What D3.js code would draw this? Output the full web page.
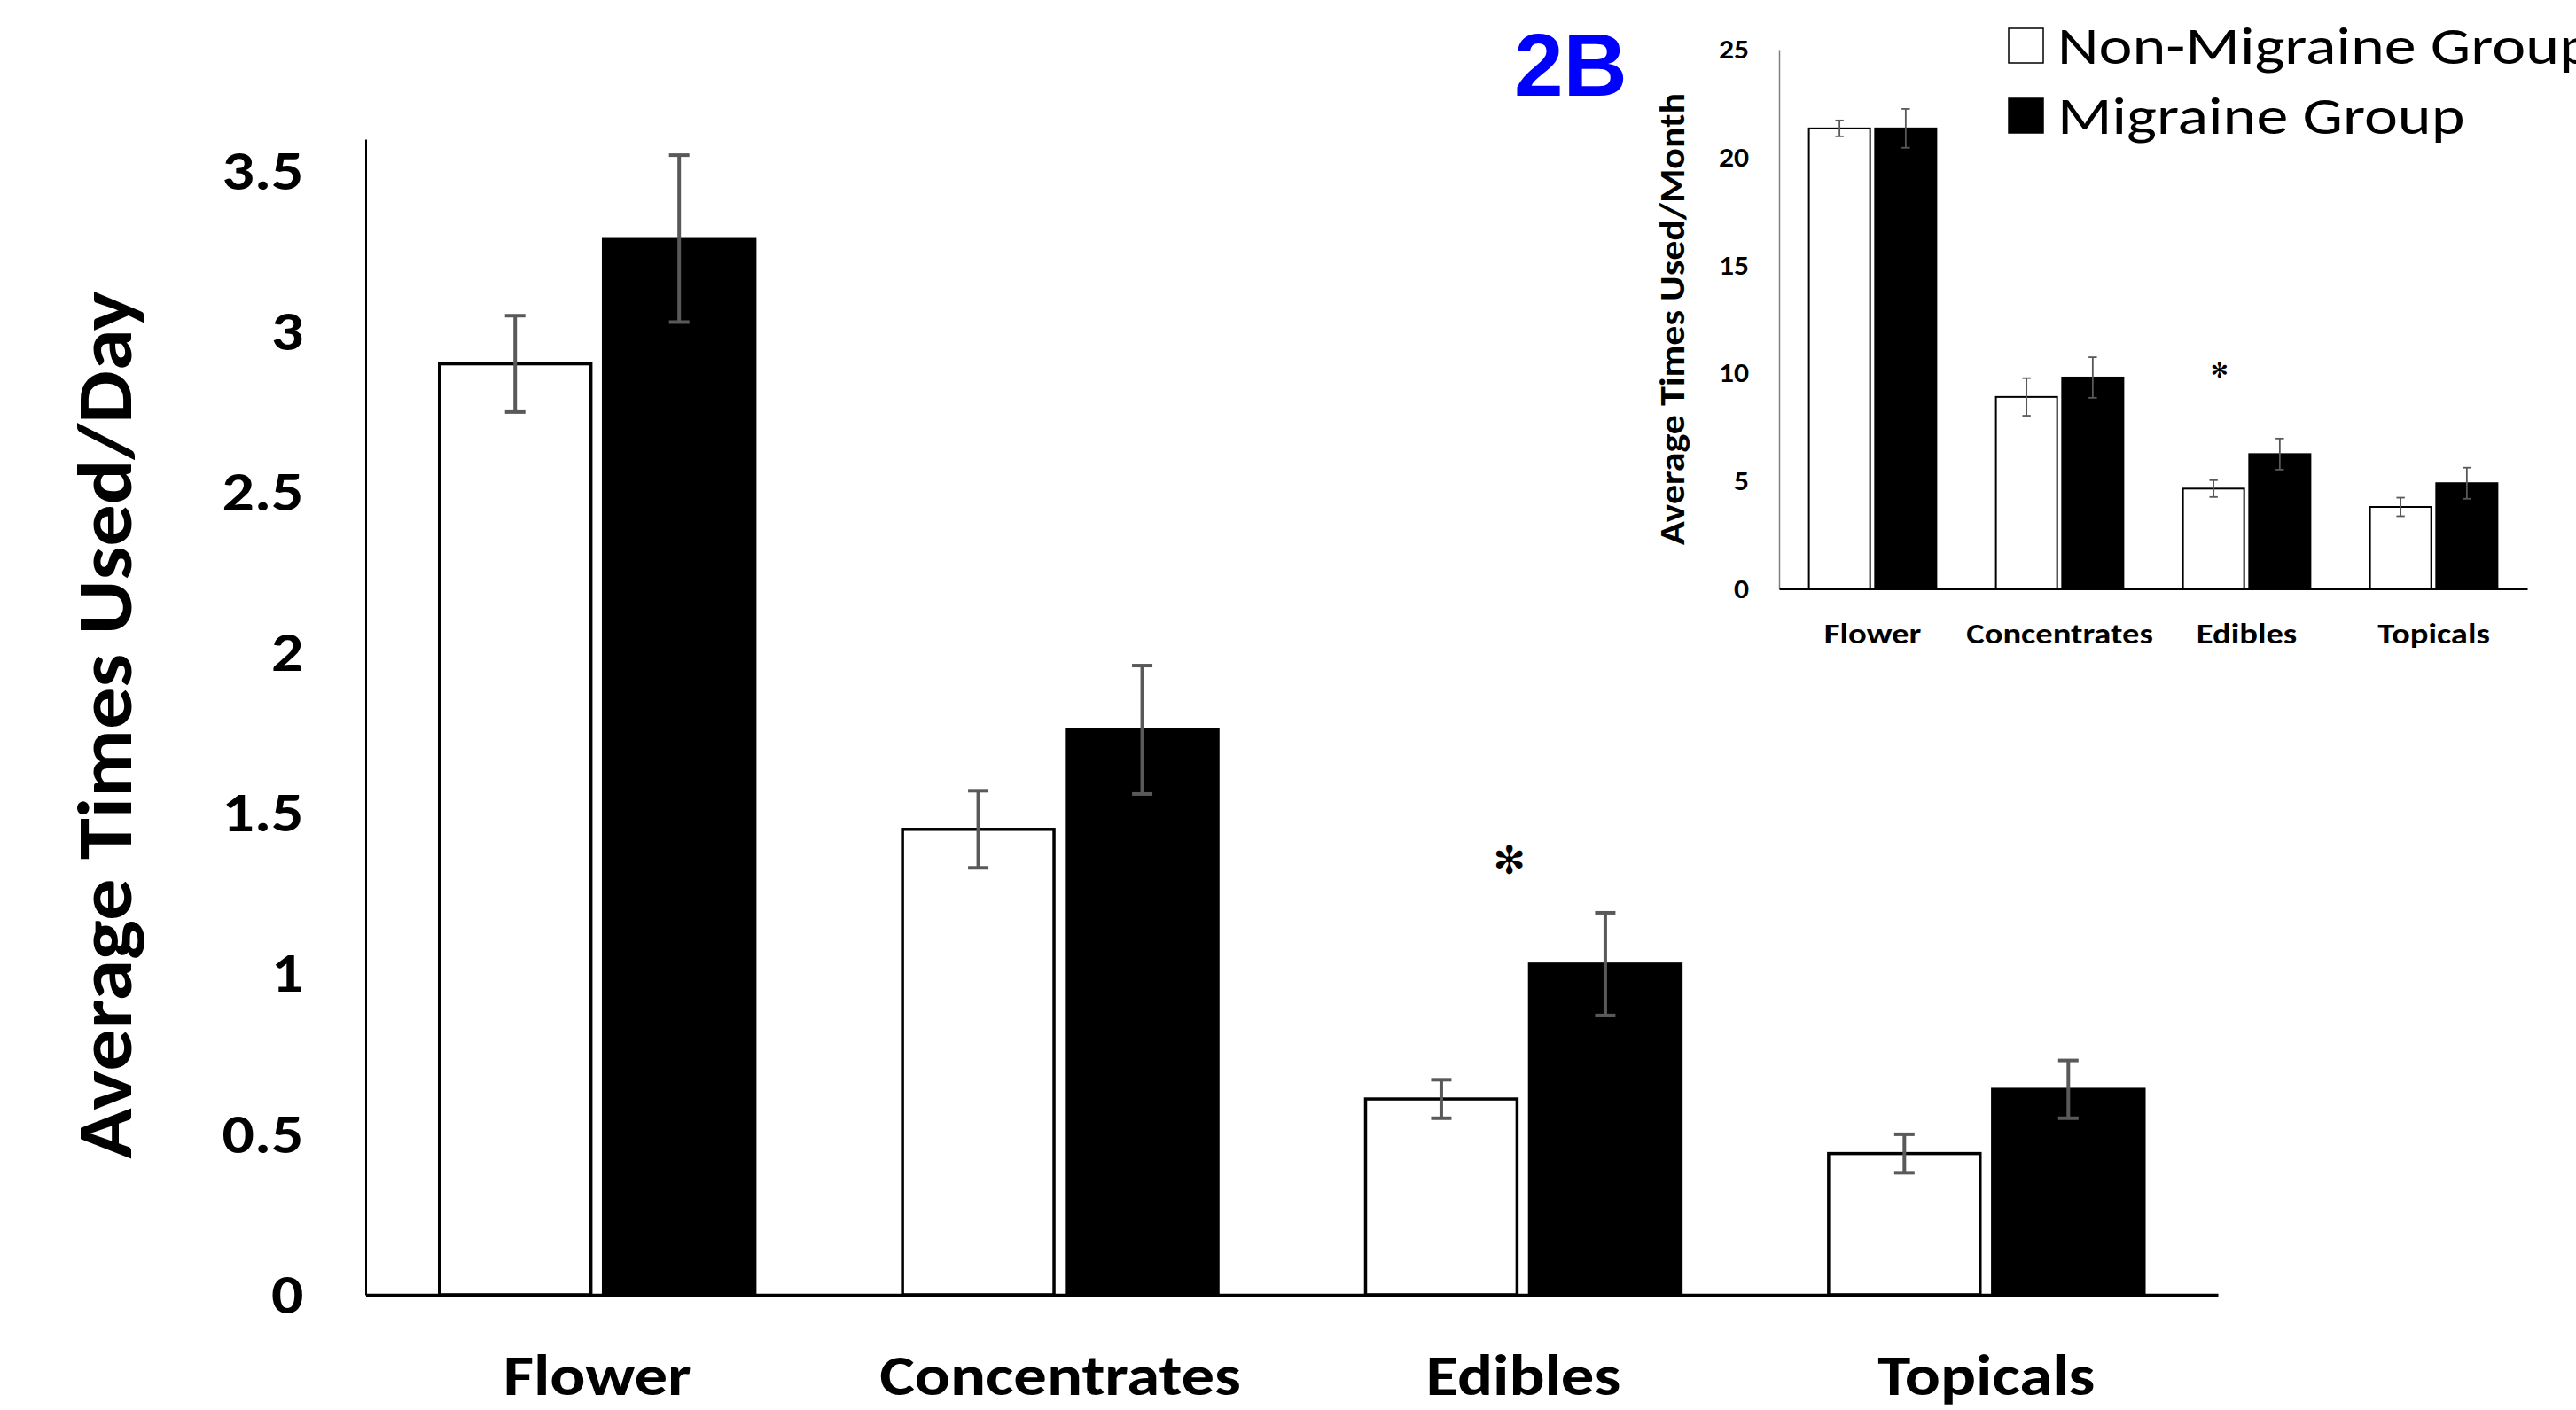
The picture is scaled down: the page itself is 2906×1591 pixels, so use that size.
<!DOCTYPE html>
<html lang="en">
<head>
    <meta charset="UTF-8">
    <title>Cannabis use frequency, migraine vs non-migraine</title>
    <script src="https://cdn.jsdelivr.net/npm/d3@7"></script>
    <style>
        html, body {
            margin: 0;
            padding: 0;
            background: #fff;
        }
        svg {
            display: block;
            font-family: Carlito, Calibri, Lato, sans-serif;
        }
    </style>
</head>
<body>
    <script>
        // Data
        const categories = ["Flower", "Concentrates", "Edibles", "Topicals"];
        const groups = ["Non-Migraine Group", "Migraine Group"];

        // main panel: times used per day
        const dayNonMigraine = [2.90, 1.45, 0.61, 0.44];
        const dayNonMigraineErr = [0.15, 0.12, 0.06, 0.06];
        const dayMigraine = [3.29, 1.76, 1.03, 0.64];
        const dayMigraineErr = [0.26, 0.20, 0.16, 0.09];
        const dayTicks = [0, 0.5, 1, 1.5, 2, 2.5, 3, 3.5];

        // inset (2B): times used per month
        const monthNonMigraine = [21.35, 8.9, 4.65, 3.8];
        const monthNonMigraineErr = [0.37, 0.87, 0.39, 0.43];
        const monthMigraine = [21.35, 9.8, 6.25, 4.9];
        const monthMigraineErr = [0.9, 0.94, 0.72, 0.72];
        const monthTicks = [0, 5, 10, 15, 20, 25];

        const significant = ["Edibles"];

        const W = 2906, H = 1591;

        const svg = d3.select("body")
            .append("svg")
            .attr("width", W)
            .attr("height", H);

        // Lato stands in for Calibri but runs narrower, so widen glyphs a bit
        function widen(sel, k) {
            sel.each(function() {
                const len = this.getComputedTextLength();
                d3.select(this)
                    .attr("textLength", len * k)
                    .attr("lengthAdjust", "spacingAndGlyphs");
            });
        }

        function rows(nonMig, nonErr, mig, migErr) {
            return categories.map((c, i) => ({
                category: c,
                values: [
                    { group: groups[0], value: nonMig[i], err: nonErr[i] },
                    { group: groups[1], value: mig[i], err: migErr[i] }
                ]
            }));
        }

        function drawPanel(opt) {
            const g = svg.append("g");

            const x0 = d3.scaleBand()
                .domain(categories)
                .range([opt.left, opt.right]);

            const x1 = d3.scaleBand()
                .domain(groups)
                .range([0, x0.bandwidth()])
                .paddingInner(0.076)
                .paddingOuter(0.45);

            const y = d3.scaleLinear()
                .domain(opt.domain)
                .range([opt.bottom, opt.top]);

            // y axis
            const yAxis = g.append("g")
                .attr("transform", `translate(${opt.left},0)`)
                .call(d3.axisLeft(y)
                    .tickValues(opt.ticks)
                    .tickFormat(d => d)
                    .tickSize(0)
                    .tickSizeOuter(0)
                    .tickPadding(opt.tickPad));
            yAxis.select(".domain")
                .attr("stroke", opt.yAxisColor)
                .attr("stroke-width", opt.yAxisWidth);
            yAxis.selectAll("text")
                .attr("font-family", "Carlito, Calibri, Lato, sans-serif")
                .attr("font-weight", "bold")
                .attr("font-size", opt.tickFont)
                .attr("fill", "#000")
                .call(widen, opt.tickWiden);

            // bars
            const cat = g.append("g")
                .selectAll("g")
                .data(opt.data)
                .join("g")
                .attr("transform", d => `translate(${x0(d.category)},0)`);

            cat.selectAll("rect")
                .data(d => d.values)
                .join("rect")
                .attr("x", d => x1(d.group))
                .attr("y", d => y(d.value))
                .attr("width", x1.bandwidth())
                .attr("height", d => y(0) - y(d.value))
                .attr("fill", d => d.group === groups[0] ? "#fff" : "#000")
                .attr("stroke", "#000")
                .attr("stroke-width", opt.barStroke);

            // error bars
            const err = cat.selectAll("g.err")
                .data(d => d.values)
                .join("g")
                .attr("class", "err")
                .attr("stroke", "#595959")
                .attr("stroke-width", opt.errWidth);
            const cx = d => x1(d.group) + x1.bandwidth() / 2;
            err.append("line")
                .attr("x1", cx).attr("x2", cx)
                .attr("y1", d => y(d.value + d.err))
                .attr("y2", d => y(d.value - d.err));
            err.append("line")
                .attr("x1", d => cx(d) - opt.capHalf).attr("x2", d => cx(d) + opt.capHalf)
                .attr("y1", d => y(d.value + d.err)).attr("y2", d => y(d.value + d.err));
            err.append("line")
                .attr("x1", d => cx(d) - opt.capHalf).attr("x2", d => cx(d) + opt.capHalf)
                .attr("y1", d => y(d.value - d.err)).attr("y2", d => y(d.value - d.err));

            // x axis
            const xAxis = g.append("g")
                .attr("transform", `translate(0,${opt.bottom})`)
                .call(d3.axisBottom(x0).tickSize(0).tickSizeOuter(0));
            xAxis.select(".domain")
                .attr("stroke", "#000")
                .attr("stroke-width", opt.xAxisWidth);
            xAxis.selectAll("text")
                .attr("dy", null)
                .attr("y", opt.labelOffset)
                .attr("font-family", "Carlito, Calibri, Lato, sans-serif")
                .attr("font-weight", "bold")
                .attr("font-size", opt.labelFont)
                .attr("fill", "#000")
                .call(widen, opt.labelWiden);

            // y title
            g.append("text")
                .attr("transform", `translate(${opt.titleX},${opt.titleY}) rotate(-90)`)
                .attr("text-anchor", "middle")
                .attr("font-weight", "bold")
                .attr("font-size", opt.titleFont)
                .text(opt.title)
                .call(widen, opt.titleWiden);

            // significance marker
            g.selectAll("text.star")
                .data(significant)
                .join("text")
                .attr("class", "star")
                .attr("x", d => x0(d) + x0.bandwidth() * opt.starDx)
                .attr("y", opt.starY)
                .attr("text-anchor", "middle")
                .attr("font-family", "'DejaVu Sans', sans-serif")
                .attr("font-size", opt.starFont)
                .text("\u273B");
        }

        // main chart
        drawPanel({
            data: rows(dayNonMigraine, dayNonMigraineErr, dayMigraine, dayMigraineErr),
            domain: [0, 3.6], ticks: dayTicks,
            left: 412.5, right: 2502, top: 157, bottom: 1461,
            yAxisColor: "#000", yAxisWidth: 2, xAxisWidth: 3.5,
            tickPad: 70, tickFont: 63, tickWiden: 1.14,
            barStroke: 3.5, errWidth: 4, capHalf: 11.5,
            labelOffset: 113, labelFont: 65, labelWiden: 1.15,
            title: "Average Times Used/Day", titleX: 148, titleY: 818, titleFont: 86, titleWiden: 1.1,
            starDx: 0.47, starY: 986, starFont: 44
        });

        // inset chart (2B)
        drawPanel({
            data: rows(monthNonMigraine, monthNonMigraineErr, monthMigraine, monthMigraineErr),
            domain: [0, 25], ticks: monthTicks,
            left: 2007, right: 2851, top: 56, bottom: 664.5,
            yAxisColor: "#808080", yAxisWidth: 1.5, xAxisWidth: 2,
            tickPad: 34, tickFont: 30, tickWiden: 1.12,
            barStroke: 2, errWidth: 1.8, capHalf: 4.7,
            labelOffset: 61.5, labelFont: 33, labelWiden: 1.17,
            title: "Average Times Used/Month", titleX: 1900, titleY: 360, titleFont: 40, titleWiden: 1.1,
            starDx: 0.355, starY: 426, starFont: 24
        });

        // panel tag
        svg.append("text")
            .attr("x", 1708)
            .attr("y", 108)
            .attr("font-family", "'Liberation Sans', Arial, sans-serif")
            .attr("font-weight", "bold")
            .attr("font-size", 100)
            .attr("fill", "#0000ff")
            .text("2B");

        // legend
        const legend = svg.append("g")
            .selectAll("g")
            .data(groups)
            .join("g")
            .attr("transform", (d, i) => `translate(2266,${32 + i * 79})`);
        legend.append("rect")
            .attr("width", 39)
            .attr("height", 39)
            .attr("fill", (d, i) => i === 0 ? "#fff" : "#000")
            .attr("stroke", "#000")
            .attr("stroke-width", 1.5);
        legend.append("text")
            .attr("x", 55)
            .attr("y", 39.5)
            .attr("font-size", 60)
            .text(d => d)
            .call(widen, 1.2);
    </script>
</body>
</html>
